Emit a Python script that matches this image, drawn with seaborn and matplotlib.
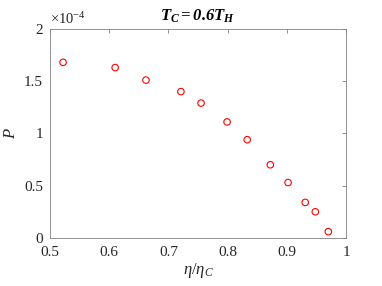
import matplotlib
matplotlib.use("Agg")
import matplotlib.pyplot as plt
import seaborn as sns
import pandas as pd

# Datos (P en unidades de 1e-4)
eta_ratio = [0.522, 0.610, 0.662, 0.721, 0.755, 0.799, 0.833, 0.872, 0.902, 0.931, 0.948, 0.970]
p_e4 = [1.68, 1.63, 1.51, 1.40, 1.29, 1.11, 0.94, 0.70, 0.53, 0.34, 0.25, 0.06]

x_ticks = [0.5, 0.6, 0.7, 0.8, 0.9, 1]
x_labels = ["0.5", "0.6", "0.7", "0.8", "0.9", "1"]
y_ticks = [0, 0.5, 1, 1.5, 2]
y_labels = ["0", "0.5", "1", "1.5", "2"]

df = pd.DataFrame({"eta": eta_ratio, "P": p_e4})

sns.set_style("white")
plt.rcParams['font.family'] = ['Liberation Serif', 'DejaVu Serif']
plt.rcParams['mathtext.fontset'] = 'custom'
plt.rcParams['mathtext.rm'] = 'Liberation Serif'
plt.rcParams['mathtext.it'] = 'Liberation Serif:italic'
plt.rcParams['mathtext.bf'] = 'Liberation Serif:bold:italic'

fig = plt.figure(figsize=(3.82, 2.86), dpi=100)
ax = fig.add_axes([0.131, 0.168, 0.775, 0.731])

sns.scatterplot(data=df, x="eta", y="P", ax=ax, marker="o", s=22,
                facecolor="none", edgecolor="red", linewidth=0.8)

ax.set_xlim(0.5, 1)
ax.set_ylim(0, 2)
ax.set_xticks(x_ticks)
ax.set_xticklabels(x_labels)
ax.set_yticks(y_ticks)
ax.set_yticklabels(y_labels)

gris = "#262626"
for s in ax.spines.values():
    s.set_color("#808080")
    s.set_linewidth(0.6)
ax.tick_params(direction="in", length=3, width=0.6, color="#808080",
               labelcolor=gris, labelsize=11, top=True, right=True)
ax.tick_params(axis="x", pad=6)
ax.tick_params(axis="y", pad=5)

ax.set_xlabel(r"$\eta/\eta_C$", fontsize=12, color=gris, labelpad=1)
ax.set_ylabel(r"$P$", fontsize=12, color=gris, labelpad=4)
ax.set_title(r"$\mathbf{T_C{=}0.6T_H}$", fontsize=12, color="black", pad=6)
ax.text(0.0, 1.01, r"$\times\mathregular{10^{-4}}$", transform=ax.transAxes,
        fontsize=10.5, color=gris, ha="left", va="bottom")

fig.savefig("out.png", dpi=100)
